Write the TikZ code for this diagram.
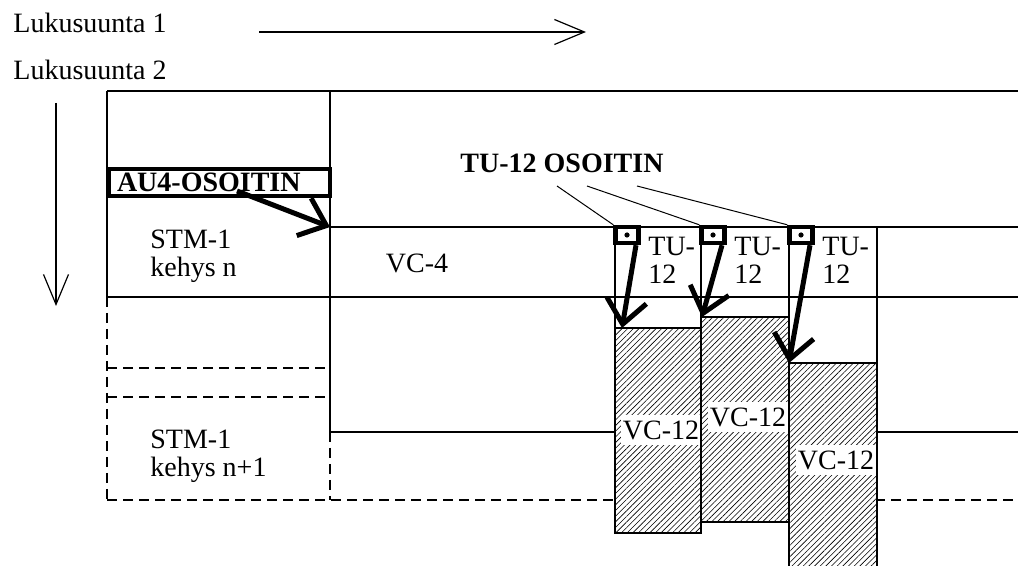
\documentclass[tikz,border=0pt]{standalone}
\usepackage{fontspec}
\setmainfont{Liberation Serif}
\usetikzlibrary{arrows.meta, patterns.meta, positioning}

\begin{document}
\begin{tikzpicture}[
    x=0.5pt, y=-0.5pt,
    every node/.style = {font=\fontsize{14}{14}\selectfont, inner sep=0pt},
    frame/.style  = {draw=black, line width=0.6pt},
    dsh/.style    = {draw=black, line width=0.6pt, dash pattern=on 5pt off 3pt},
    lead/.style   = {draw=black, line width=0.5pt},
    dirarr/.style = {-{Straight Barb[length=15pt, width=12.5pt]}, line width=0.6pt},
    ptrarr/.style = {-{Straight Barb[length=12pt, width=20pt]}, line width=2.5pt},
    ptr/.style    = {rectangle, draw=black, line width=2.2pt, minimum width=11.5pt, minimum height=8pt},
    vcbox/.style  = {draw=black, line width=0.6pt, preaction={fill=white},
                     pattern={Lines[angle=45, distance=2pt, line width=0.3pt]}},
    vclbl/.style  = {fill=white, inner xsep=1pt, inner ysep=3pt},
]
\useasboundingbox (0,0) rectangle (1018,566);

%% ---- Reading directions ----

\node[anchor=west] (dir1) at (13,23) {Lukusuunta 1};
\node[anchor=west] (dir2) at (13,70) {Lukusuunta 2};
\coordinate (h1) at (259,32);
\coordinate (h2) at (586,32);
\coordinate (v1) at (56,103);
\coordinate (v2) at (56,306);
\draw[dirarr] (h1) -- (h2);
\draw[dirarr] (v1) -- (v2);

%% ---- Frame grid ----

\draw[frame] (107,91) -- (1018,91);
\draw[frame] (107,91) -- (107,297);
\draw[frame] (330,91) -- (330,432);
\draw[frame] (330,227) -- (1018,227);
\draw[frame] (107,297) -- (1018,297);
\draw[frame] (330,432) -- (1018,432);
\draw[frame] (877,227) -- (877,580);

\draw[dsh] (107,297) -- (107,500);
\draw[dsh] (107,368) -- (327,368);
\draw[dsh] (107,397) -- (327,397);
\draw[dsh] (330,432) -- (330,500);
\draw[dsh] (107,500) -- (1018,500);

%% ---- Frame texts ----

\node[anchor=west, align=left] (stm1) at (150,256) {STM-1\\kehys n};
\node[anchor=west, align=left] (stm2) at (150,456) {STM-1\\kehys n+1};
\node (vc4) at (417,263) {VC-4};

%% ---- AU4 pointer ----

\node[draw=black, line width=2pt, anchor=west, text width=102.5pt, align=left,
      inner xsep=4pt, minimum height=13.5pt, font=\fontsize{14}{14}\selectfont\bfseries]
    (au4) at (107,182.5) {AU4-OSOITIN};
\coordinate (au4s) at (237,191);
\coordinate (vc4c) at (330,227);
\draw[ptrarr] (au4s) -- (vc4c);

%% ---- TU-12 pointers and VC-12 blocks ----

\node[font=\fontsize{14}{14}\selectfont\bfseries] (tulbl) at (562,163) {TU-12 OSOITIN};

\foreach \i/\xl/\xr/\top/\bot/\ly/\tx/\lx in
    {1/615/701/328/533/430/7/557, 2/701/789/317/522/417/1/587, 3/789/877/363/580/460/0/637}{
  \draw[frame] (\xl,227) -- (\xl,\top);
  \draw[vcbox] (\xl,\top) rectangle (\xr,\bot);
  \coordinate (vc\i) at ({\xl+\tx},\top);
  \coordinate (lead\i) at (\lx,186);
  \node[ptr] (ptr\i) at ({\xl+12},235) {};
  \fill (ptr\i.center) circle (1.3pt);
  \node[anchor=west, align=left] (tu\i) at ({\xl+33},260) {TU-\\12};
  \node[vclbl] (lbl\i) at ({(\xl+\xr)/2+3},\ly) {VC-12};
  \draw[lead] (lead\i) -- (ptr\i.north west);
  \draw[ptrarr] ([xshift=4.5pt]ptr\i.south) -- (vc\i);
}

\end{tikzpicture}
\end{document}
